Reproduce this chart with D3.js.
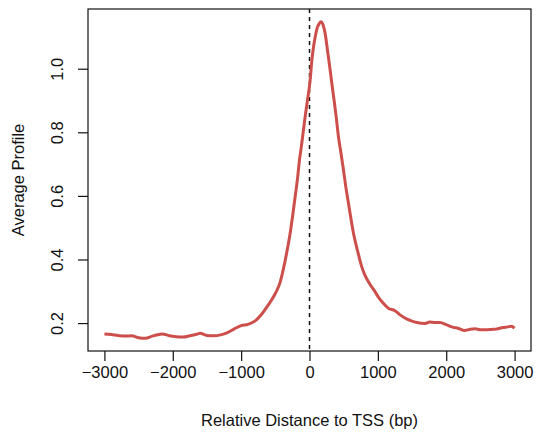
<!DOCTYPE html>
<html>
<head>
<meta charset="utf-8">
<script src="https://cdn.jsdelivr.net/npm/d3@7"></script>
<style>
  body { margin: 0; background: #fff; }
  text { font-family: "Liberation Sans", Arial, Helvetica, sans-serif; fill: #111; }
</style>
</head>
<body>
<div class="svgtarget"></div>
<script>
// distance to TSS (bp) and average profile
var positions = [-3000, -2900, -2800, -2700, -2600, -2500, -2400, -2300, -2200, -2150,
                 -2050, -1950, -1850, -1750, -1650, -1600, -1500, -1400, -1300, -1200,
                 -1100, -1000, -900, -800, -700, -600, -500, -430, -380, -330,
                 -282, -245, -209, -175, -146, -115, -88, -60, -29, 10,
                 35, 60, 83, 115, 146, 165, 195, 229, 265, 302,
                 335, 365, 395, 423, 460, 496, 530, 569, 605, 642,
                 680, 715, 760, 812, 885, 960, 1010, 1080, 1150, 1250,
                 1330, 1420, 1500, 1570, 1690, 1760, 1830, 1910, 2000, 2080,
                 2180, 2270, 2340, 2420, 2500, 2590, 2660, 2730, 2830, 2900,
                 2950, 3000];
var profile = [0.166, 0.164, 0.161, 0.159, 0.160, 0.154, 0.152, 0.159, 0.164, 0.166,
               0.160, 0.157, 0.156, 0.160, 0.165, 0.168, 0.161, 0.160, 0.163, 0.170,
               0.182, 0.192, 0.196, 0.206, 0.228, 0.258, 0.293, 0.328, 0.372, 0.425,
               0.484, 0.540, 0.599, 0.655, 0.714, 0.762, 0.808, 0.855, 0.902, 0.965,
               1.028, 1.070, 1.100, 1.130, 1.143, 1.148, 1.140, 1.111, 1.055, 0.996,
               0.940, 0.892, 0.840, 0.787, 0.735, 0.683, 0.630, 0.578, 0.530, 0.484,
               0.447, 0.417, 0.380, 0.350, 0.322, 0.298, 0.281, 0.262, 0.247, 0.239,
               0.225, 0.213, 0.206, 0.202, 0.199, 0.203, 0.202, 0.202, 0.195, 0.188,
               0.183, 0.177, 0.180, 0.182, 0.179, 0.179, 0.180, 0.181, 0.186, 0.188,
               0.190, 0.184];
var xTicks = [-3000, -2000, -1000, 0, 1000, 2000, 3000];
var yTicks = [0.2, 0.4, 0.6, 0.8, 1.0];
var xTitle = "Relative Distance to TSS (bp)";
var yTitle = "Average Profile";

var W = 537, H = 437;
var box = {left: 88, right: 531, top: 9, bottom: 351};
var fs = 16.5;

var svg = d3.select(".svgtarget").append("svg")
            .attr("width", W)
            .attr("height", H);

// R style 4% padding on both axes
var xr = d3.extent(positions), yr = d3.extent(profile);
var xPad = (xr[1] - xr[0]) * 0.04, yPad = (yr[1] - yr[0]) * 0.04;
var x = d3.scaleLinear().domain([xr[0] - xPad, xr[1] + xPad]).range([box.left, box.right]);
var y = d3.scaleLinear().domain([yr[0] - yPad, yr[1] + yPad]).range([box.bottom, box.top]);

var fmtX = function(d) { return d < 0 ? "\u2212" + Math.abs(d) : String(d); };

var xAxis = svg.append("g")
    .attr("transform", "translate(0," + box.bottom + ")")
    .call(d3.axisBottom(x).tickValues(xTicks).tickFormat(fmtX).tickSize(10).tickPadding(5));
xAxis.select(".domain").remove();
xAxis.selectAll("line").attr("stroke", "#111").attr("stroke-width", 1.2);
xAxis.selectAll("text").attr("font-size", fs).attr("fill", "#111");

var yAxis = svg.append("g")
    .attr("transform", "translate(" + box.left + ",0)")
    .call(d3.axisLeft(y).tickValues(yTicks).tickFormat(d3.format(".1f")).tickSize(10));
yAxis.select(".domain").remove();
yAxis.selectAll("line").attr("stroke", "#111").attr("stroke-width", 1.2);
yAxis.selectAll("text")
     .attr("font-size", fs)
     .attr("fill", "#111")
     .attr("text-anchor", "middle")
     .attr("x", 0).attr("dy", 0)
     .attr("transform", "translate(-25,0) rotate(-90)");

// dashed line at the TSS
svg.append("line")
   .attr("x1", x(0)).attr("x2", x(0))
   .attr("y1", box.top).attr("y2", box.bottom)
   .attr("stroke", "#111")
   .attr("stroke-width", 1.5)
   .attr("stroke-dasharray", "4,4");

var line = d3.line()
    .x(function(d, i) { return x(positions[i]); })
    .y(function(d) { return y(d); })
    .curve(d3.curveMonotoneX);

svg.append("path")
   .datum(profile)
   .attr("d", line)
   .attr("fill", "none")
   .attr("stroke", "#cd4f4c")
   .attr("stroke-width", 3)
   .attr("stroke-linejoin", "round");

svg.append("rect")
   .attr("x", box.left).attr("y", box.top)
   .attr("width", box.right - box.left).attr("height", box.bottom - box.top)
   .attr("fill", "none")
   .attr("stroke", "#111")
   .attr("stroke-width", 1.2);

svg.append("text")
   .attr("x", (box.left + box.right) / 2).attr("y", 426)
   .attr("text-anchor", "middle")
   .attr("font-size", fs)
   .text(xTitle);

svg.append("text")
   .attr("transform", "translate(24," + (box.top + box.bottom) / 2 + ") rotate(-90)")
   .attr("text-anchor", "middle")
   .attr("font-size", fs)
   .text(yTitle);
</script>
</body>
</html>
